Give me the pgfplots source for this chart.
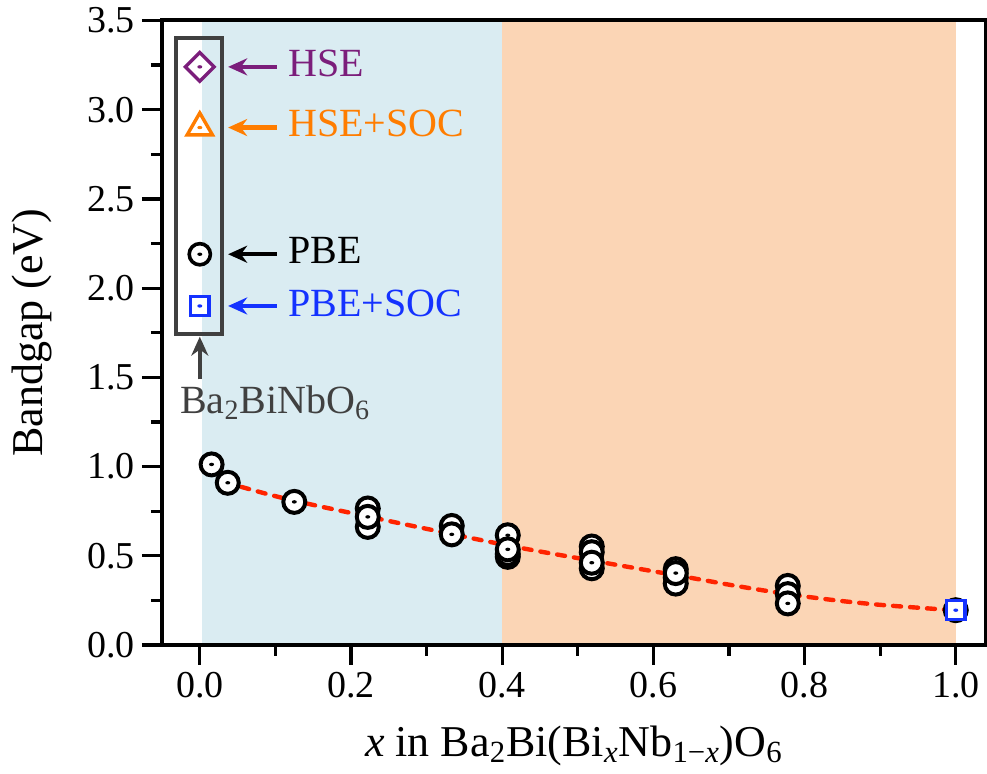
\documentclass[border=0pt]{standalone}
\usepackage{fontspec}
\setmainfont{Liberation Serif}
\usepackage{pgfplots}
\usepackage{pgfplotstable}
\pgfplotsset{compat=1.18}
\usetikzlibrary{arrows.meta}

\definecolor{shadeblue}{RGB}{218,236,242}
\definecolor{shadeorange}{RGB}{251,213,181}
\definecolor{fitred}{RGB}{255,36,0}
\definecolor{hsecol}{RGB}{123,30,123}
\definecolor{hsesoccol}{RGB}{255,125,0}
\definecolor{pbesoccol}{RGB}{20,50,255}
\definecolor{boxgray}{RGB}{64,64,64}

% centre dot drawn in the current stroke colour
\newcommand{\centredot}{%
  \pgfscope\pgfsetfillcolor{pgfstrokecolor}%
  \pgfpathellipse{\pgfpointorigin}{\pgfqpoint{1.25pt}{0pt}}{\pgfqpoint{0pt}{0.85pt}}%
  \pgfusepathqfill\endpgfscope}

% open marks with a small centre dot
\pgfdeclareplotmark{odot}{%
  \pgfpathcircle{\pgfpointorigin}{\pgfplotmarksize}%
  \pgfusepathqfillstroke
  \centredot}
\pgfdeclareplotmark{sqdot}{%
  \pgfpathrectangle{\pgfpoint{-\pgfplotmarksize}{-\pgfplotmarksize}}{\pgfpoint{2\pgfplotmarksize}{2\pgfplotmarksize}}%
  \pgfusepathqfillstroke
  \centredot}
\pgfdeclareplotmark{diadot}{%
  \pgfpathmoveto{\pgfpoint{0pt}{\pgfplotmarksize}}%
  \pgfpathlineto{\pgfpoint{\pgfplotmarksize}{0pt}}%
  \pgfpathlineto{\pgfpoint{0pt}{-\pgfplotmarksize}}%
  \pgfpathlineto{\pgfpoint{-\pgfplotmarksize}{0pt}}%
  \pgfpathclose
  \pgfusepathqfillstroke
  \centredot}
\pgfdeclareplotmark{tridot}{%
  \pgfpathmoveto{\pgfpointpolar{90}{\pgfplotmarksize}}%
  \pgfpathlineto{\pgfpointpolar{210}{\pgfplotmarksize}}%
  \pgfpathlineto{\pgfpointpolar{330}{\pgfplotmarksize}}%
  \pgfpathclose
  \pgfusepathqfillstroke
  \centredot}

% PBE band gaps of the supercells (last point of each x is drawn on top)
\pgfplotstableread{
x       y
0.0156  1.012
0.0370  0.909
0.1250  0.802
0.2222  0.765
0.2222  0.662
0.2222  0.718
0.3333  0.667
0.3333  0.620
0.4074  0.615
0.4074  0.494
0.4074  0.510
0.4074  0.536
0.5185  0.552
0.5185  0.520
0.5185  0.430
0.5185  0.461
0.6296  0.425
0.6296  0.378
0.6296  0.344
0.6296  0.403
0.7778  0.331
0.7778  0.285
0.7778  0.233
1.0000  0.195
}\pbedata

% fitted trend
\pgfplotstableread{
x      y
0.055  0.886
0.100  0.834
0.150  0.785
0.200  0.740
0.250  0.695
0.300  0.651
0.350  0.607
0.400  0.564
0.450  0.524
0.500  0.487
0.550  0.450
0.600  0.413
0.650  0.376
0.700  0.338
0.750  0.303
0.800  0.272
0.850  0.246
0.900  0.225
0.950  0.209
0.990  0.197
}\fitdata

\begin{document}
\begin{tikzpicture}
\useasboundingbox (-81pt,-64.5pt) rectangle (412.5pt,322.5pt);
\begin{axis}[
  at={(0,0)}, anchor=south west,
  scale only axis, width=412pt, height=312.25pt,
  xmin=-0.05, xmax=1.04, ymin=0, ymax=3.5,
  axis on top,
  xtick={0,0.2,0.4,0.6,0.8,1.0},
  ytick={0,0.5,1.0,1.5,2.0,2.5,3.0,3.5},
  minor x tick num=1, minor y tick num=1,
  xtick pos=bottom, ytick pos=left,
  tick align=outside,
  major tick length=10pt, minor tick length=5.5pt,
  every tick/.style={black, line width=1.6pt},
  axis line style={line width=2pt},
  /pgf/number format/assume math mode=true,
  /pgf/number format/.cd, fixed, fixed zerofill, precision=1, /pgfplots/.cd,
  tick label style={font=\fontsize{19}{22}\selectfont},
  label style={font=\fontsize{22}{26}\selectfont},
  xlabel={\textit{x} in Ba\textsubscript{2}Bi(Bi\textsubscript{\textit{x}}Nb\textsubscript{1−\textit{x}})O\textsubscript{6}},
  ylabel={Bandgap (eV)},
  xlabel style={at={(axis description cs:0.5,-0.162)}, anchor=center},
  ylabel style={at={(axis description cs:-0.158,0.5)}, anchor=center},
  clip=false,
]
% composition regions
\addplot[draw=none, fill=shadeblue] coordinates {(0.003,3.5) (0.4,3.5)} \closedcycle;
\addplot[draw=none, fill=shadeorange] coordinates {(0.4,3.5) (1.0,3.5)} \closedcycle;

% trend line
\addplot[fitred, line width=2.2pt, line cap=round, dash pattern=on 4pt off 4.5pt, smooth] table {\fitdata};

% PBE points
\addplot[only marks, mark=odot, mark size=5.5pt,
  mark options={draw=black, fill=white, line width=2pt}] table {\pbedata};
% PBE+SOC at x = 1
\addplot[only marks, mark=sqdot, mark size=4.7pt,
  mark options={draw=pbesoccol, fill=white, line width=1.7pt}] coordinates {(1.0,0.195)};

% Ba2BiNbO6 reference values
\addplot[only marks, mark=diadot, mark size=7.2pt,
  mark options={draw=hsecol, fill=white, line width=1.7pt}] coordinates {(0,3.24)};
\addplot[only marks, mark=tridot, mark size=7.3pt,
  mark options={draw=hsesoccol, fill=white, line width=1.7pt}] coordinates {(0,2.90)};
\addplot[only marks, mark=odot, mark size=5.3pt,
  mark options={draw=black, fill=white, line width=1.8pt}] coordinates {(0,2.19)};
\addplot[only marks, mark=sqdot, mark size=4.7pt,
  mark options={draw=pbesoccol, fill=white, line width=1.7pt}] coordinates {(0,1.90)};

\draw[boxgray, line width=2pt] (axis cs:-0.0318,1.741) rectangle (axis cs:0.030,3.403);

\tikzset{lab/.style={anchor=base west, inner sep=0pt, font=\fontsize{20}{24}\selectfont},
         arr/.style={line width=2.2pt, -{Stealth[length=9.5pt, width=8.5pt]}}}
\draw[arr, hsecol]    (axis cs:0.1015,3.24) -- (axis cs:0.0375,3.24);
\draw[arr, hsesoccol] (axis cs:0.1015,2.90) -- (axis cs:0.0375,2.90);
\draw[arr, black]     (axis cs:0.1015,2.19) -- (axis cs:0.0375,2.19);
\draw[arr, pbesoccol] (axis cs:0.1015,1.90) -- (axis cs:0.0375,1.90);
\node[lab, text=hsecol]    at (axis cs:0.1165,3.186) {HSE};
\node[lab, text=hsesoccol] at (axis cs:0.1165,2.850) {HSE+SOC};
\node[lab, text=black]     at (axis cs:0.1165,2.137) {PBE};
\node[lab, text=pbesoccol] at (axis cs:0.1165,1.842) {PBE+SOC};

\draw[arr, boxgray] (axis cs:0,1.488) -- (axis cs:0,1.728);
\node[lab, text=boxgray] at (axis cs:-0.0265,1.30) {Ba\textsubscript{2}BiNbO\textsubscript{6}};
\end{axis}
\end{tikzpicture}
\end{document}
